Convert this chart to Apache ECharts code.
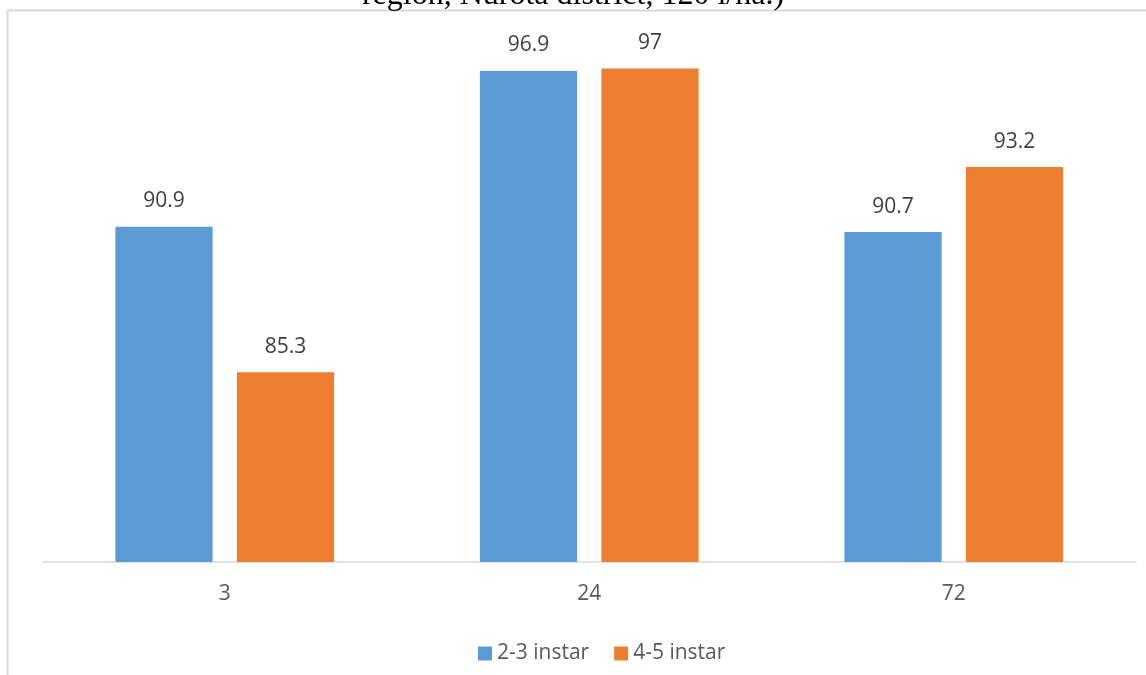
<!DOCTYPE html>
<html>
<head>
<meta charset="utf-8">
<script src="https://cdn.jsdelivr.net/npm/echarts@6/dist/echarts.min.js"></script>
<style>
    html, body { margin: 0; padding: 0; background: #fff; }
    #chart { width: 1146px; height: 675px; }
</style>
</head>
<body>
<div id="chart"></div>
<script>
// hours after treatment
const categories = ['3', '24', '72']
const seriesNames = ['2-3 instar', '4-5 instar']
const instar23 = [90.9, 96.9, 90.7]
const instar45 = [85.3, 97, 93.2]
const titleText = 'region, Nurota district, 120 l/ha.)'

const chart = echarts.init(document.getElementById('chart'))

const labelStyle = {
    show: true,
    position: 'top',
    distance: 15,
    color: '#404040',
    fontSize: 21,
    fontFamily: 'Open Sans',
}

chart.setOption({
    animation: false,
    color: ['#5B9BD5', '#ED7D31'],
    title: {
        text: titleText,
        left: 568,
        textAlign: 'center',
        top: -25,
        textStyle: {
            fontFamily: 'Liberation Serif',
            fontWeight: 'normal',
            fontSize: 32,
            color: '#000',
        },
    },
    graphic: [
        {
            type: 'rect',
            silent: true,
            shape: { x: 7.5, y: 10.5, width: 1300, height: 800 },
            style: { fill: 'none', stroke: '#d9d9d9', lineWidth: 2 },
        },
    ],
    grid: {
        left: 42.5,
        right: 10,
        top: 42.4,
        bottom: 113,
    },
    legend: {
        left: 473,
        top: 638,
        itemWidth: 14,
        itemHeight: 14,
        itemGap: 25,
        icon: 'rect',
        textStyle: {
            color: '#595959',
            fontSize: 21,
            fontFamily: 'Open Sans',
            padding: [0, 0, 0, 0],
        },
        data: seriesNames,
    },
    xAxis: {
        type: 'category',
        data: categories,
        axisTick: { show: false },
        axisLine: { lineStyle: { color: '#d9d9d9', width: 1.5 } },
        axisLabel: {
            color: '#595959',
            fontSize: 21,
            fontFamily: 'Open Sans',
            margin: 22,
        },
    },
    yAxis: {
        type: 'value',
        min: 78,
        max: 98,
        show: false,
        splitLine: { show: false },
    },
    series: [
        {
            name: seriesNames[0],
            type: 'bar',
            data: instar23,
            barGap: '25%',
            barCategoryGap: '40%',
            label: labelStyle,
        },
        {
            name: seriesNames[1],
            type: 'bar',
            data: instar45,
            barGap: '25%',
            barCategoryGap: '40%',
            label: labelStyle,
        },
    ],
})
</script>
</body>
</html>
